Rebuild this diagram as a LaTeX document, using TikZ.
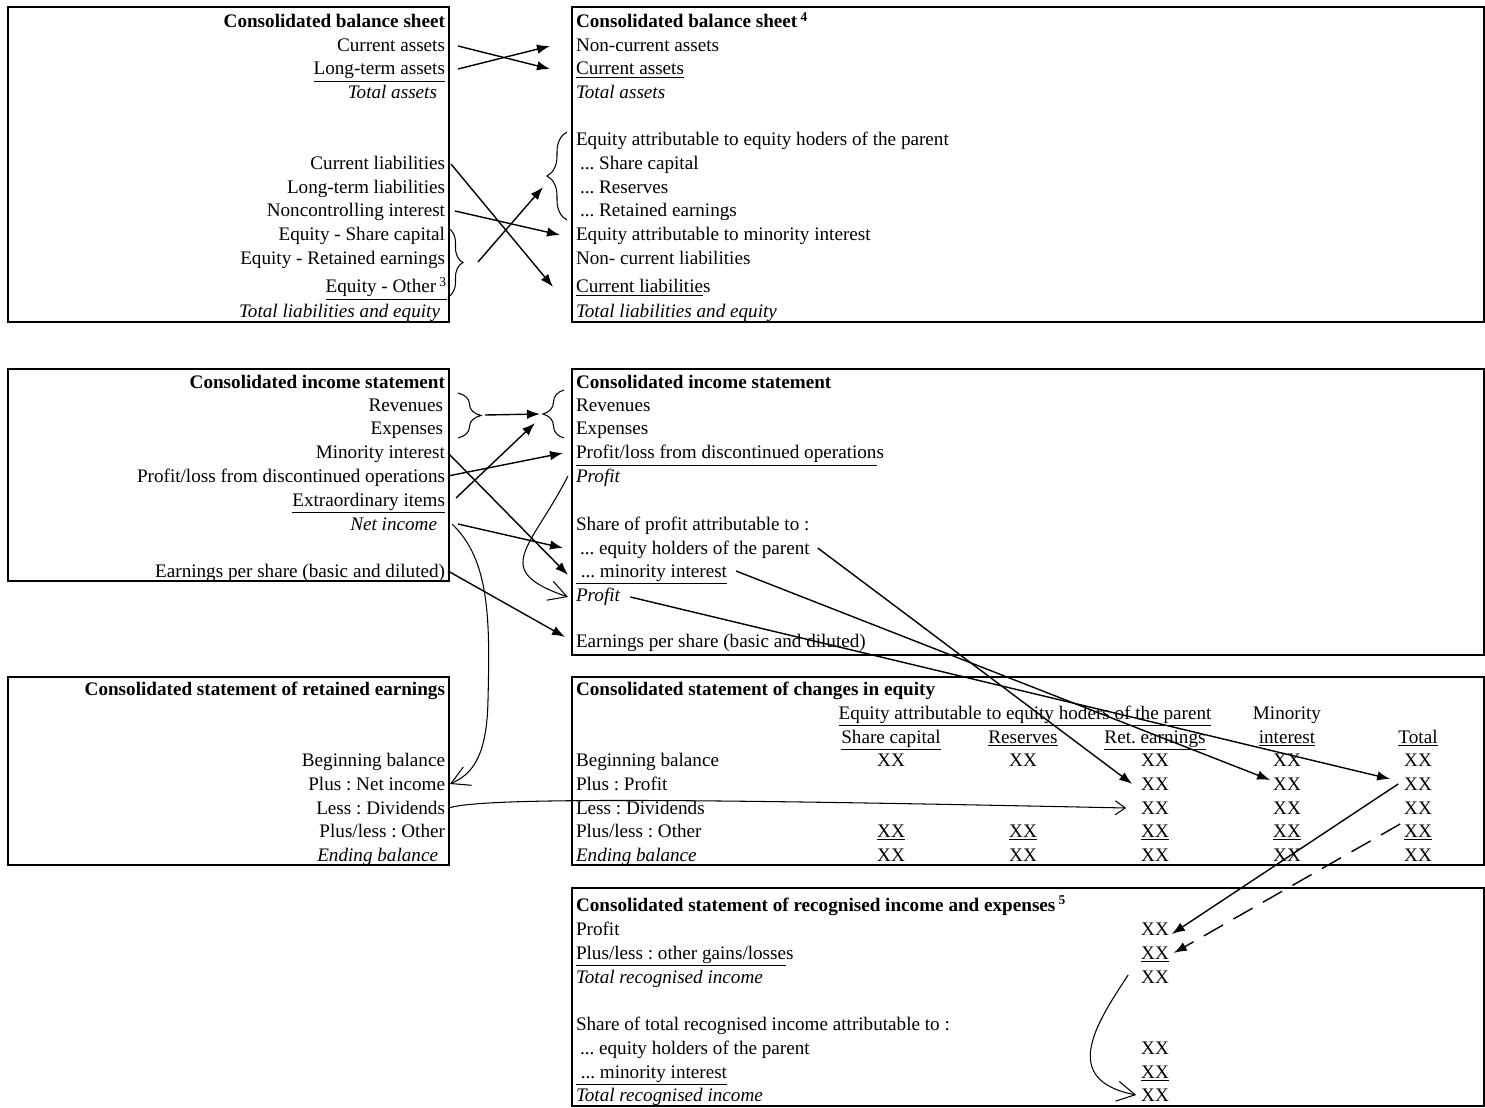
\documentclass[tikz,border=0pt]{standalone}
\usepackage{fontspec}
\setmainfont{Liberation Serif}
\frenchspacing
\usetikzlibrary{arrows.meta,decorations.pathreplacing}

\begin{document}
\begin{tikzpicture}[x=0.02cm,y=-0.02cm,font=\fontsize{10.9pt}{13pt}\selectfont,
	box/.style={draw, line width=1.1pt},
	txt/.style={inner sep=0pt, outer sep=0pt, text height=0.3cm, text depth=0.06cm},
	lt/.style={txt, anchor=base east},
	rt/.style={txt, anchor=base west},
	num/.style={txt, anchor=base},
	arr/.style={-{Latex[length=0.26cm,width=0.19cm]}, line width=0.8pt},
	barb/.style={-{Straight Barb[length=0.36cm,width=0.4cm]}, line width=0.6pt},
	br/.style={decorate, decoration={brace, amplitude=#1}, line width=0.6pt}]

	\useasboundingbox (0,0) rectangle (1485,1108);

	\draw[box] (8,7) rectangle (449,322);
	\draw[box] (572,7) rectangle (1484,322);
	\draw[box] (8,369) rectangle (449,581);
	\draw[box] (572,369) rectangle (1484,655);
	\draw[box] (8,677) rectangle (449,865);
	\draw[box] (572,677) rectangle (1484,865);
	\draw[box] (572,888) rectangle (1484,1106);

	% balance sheet
	\node (bsl0) [lt] at (445,28) {\textbf{Consolidated balance sheet}};
	\node (bsl1) [lt] at (445,52) {Current assets};
	\node (bsl2) [lt] at (445,75) {\underline{Long-term assets}};
	\node (bsl3) [lt] at (437,99) {\textit{Total assets}};
	\node (bsl5) [lt] at (445,170) {Current liabilities};
	\node (bsl6) [lt] at (445,194) {Long-term liabilities};
	\node (bsl7) [lt] at (445,217) {Noncontrolling interest};
	\node (bsl8) [lt] at (445,241) {Equity - Share capital};
	\node (bsl9) [lt] at (445,265) {Equity - Retained earnings};
	\node (bsl10) [lt] at (447,293) {\underline{Equity - Other\,\textsuperscript{3}}};
	\node (bsl11) [lt] at (440,317) {\textit{Total liabilities and equity}};

	\node (bsr0) [rt] at (576,28) {\textbf{Consolidated balance sheet\,\textsuperscript{4}}};
	\node (bsr1) [rt] at (576,52) {Non-current assets};
	\node (bsr2) [rt] at (576,75) {\underline{Current assets}};
	\node (bsr3) [rt] at (576,99) {\textit{Total assets}};
	\node (bsr4) [rt] at (576,146) {Equity attributable to equity hoders of the parent};
	\node (bsr5) [rt] at (580,170) {... Share capital};
	\node (bsr6) [rt] at (580,194) {... Reserves};
	\node (bsr7) [rt] at (580,217) {... Retained earnings};
	\node (bsr8) [rt] at (576,241) {Equity attributable to minority interest};
	\node (bsr9) [rt] at (576,265) {Non- current liabilities};
	\node (bsr10) [rt] at (576,293) {\underline{Current liabilitie}s};
	\node (bsr11) [rt] at (576,317) {\textit{Total liabilities and equity}};

	\draw[br=0.3cm] (448,228) -- (448,297);
	\draw[br=0.4cm] (567,220) -- (567,132);
	\coordinate (bslb) at (463,262);
	\coordinate (bsrb) at (547,176);

	% income statement
	\node (isl0) [lt] at (445,388) {\textbf{Consolidated income statement}};
	\node (isl1) [lt] at (443,411) {Revenues};
	\node (isl2) [lt] at (443,435) {Expenses};
	\node (isl3) [lt] at (445,459) {Minority interest};
	\node (isl4) [lt] at (445,482) {Profit/loss from discontinued operations};
	\node (isl5) [lt] at (445,506) {\underline{Extraordinary items}};
	\node (isl6) [lt] at (437,530) {\textit{Net income}};
	\node (isl8) [lt] at (445,577) {Earnings per share (basic and diluted)};

	\node (isr0) [rt] at (576,388) {\textbf{Consolidated income statement}};
	\node (isr1) [rt] at (576,411) {Revenues};
	\node (isr2) [rt] at (576,435) {Expenses};
	\node (isr3) [rt] at (576,459) {\underline{Profit/loss from discontinued operation}s};
	\node (isr4) [rt] at (576,482) {\textit{Profit}};
	\node (isr6) [rt] at (576,530) {Share of profit attributable to :};
	\node (isr7) [rt] at (580,554) {... equity holders of the parent};
	\node (isr8) [rt] at (576,577) {\underline{\ ... minority interest}};
	\node (isr9) [rt] at (576,601) {\textit{Profit}};
	\node (isr11) [rt] at (576,647) {Earnings per share (basic and diluted)};

	\draw[br=0.46cm] (458,393) -- (458,438);
	\draw[br=0.42cm] (564,438) -- (564,390);
	\coordinate (islb) at (481,415);
	\coordinate (isrb) at (543,414);

	% retained earnings
	\node (rel0) [lt] at (445,695) {\textbf{Consolidated statement of retained earnings}};
	\node (rel3) [lt] at (445,766) {Beginning balance};
	\node (rel4) [lt] at (445,790) {Plus : Net income};
	\node (rel5) [lt] at (445,814) {Less : Dividends};
	\node (rel6) [lt] at (445,837) {Plus/less : Other};
	\node (rel7) [lt] at (438,861) {\textit{Ending balance}};

	% changes in equity
	\node (ce0) [rt] at (576,695) {\textbf{Consolidated statement of changes in equity}};
	\node (ceh1) [num] at (1025,719) {\underline{Equity attributable to equity hoders of the parent}};
	\node (ceh2) [num] at (1287,719) {Minority};
	\node (ceh3) [num] at (891,743) {\underline{Share capital}};
	\node (ceh4) [num] at (1023,743) {\underline{Reserves}};
	\node (ceh5) [num] at (1155,743) {\underline{Ret. earnings}};
	\node (ceh6) [num] at (1287,743) {\underline{interest}};
	\node (ceh7) [num] at (1418,743) {\underline{Total}};
	\node (ce3) [rt] at (576,766) {Beginning balance};
	\node (ce4) [rt] at (576,790) {Plus : Profit};
	\node (ce5) [rt] at (576,814) {Less : Dividends};
	\node (ce6) [rt] at (576,837) {Plus/less : Other};
	\node (ce7) [rt] at (576,861) {\textit{Ending balance}};

	\node (xa1) [num] at (891,766) {XX};
	\node (xa2) [num] at (1023,766) {XX};
	\node (xa3) [num] at (1155,766) {XX};
	\node (xa4) [num] at (1287,766) {XX};
	\node (xa5) [num] at (1418,766) {XX};
	\node (xb3) [num] at (1155,790) {XX};
	\node (xb4) [num] at (1287,790) {XX};
	\node (xb5) [num] at (1418,790) {XX};
	\node (xc3) [num] at (1155,814) {XX};
	\node (xc4) [num] at (1287,814) {XX};
	\node (xc5) [num] at (1418,814) {XX};
	\node (xd1) [num] at (891,837) {\underline{XX}};
	\node (xd2) [num] at (1023,837) {\underline{XX}};
	\node (xd3) [num] at (1155,837) {\underline{XX}};
	\node (xd4) [num] at (1287,837) {\underline{XX}};
	\node (xd5) [num] at (1418,837) {\underline{XX}};
	\node (xe1) [num] at (891,861) {XX};
	\node (xe2) [num] at (1023,861) {XX};
	\node (xe3) [num] at (1155,861) {XX};
	\node (xe4) [num] at (1287,861) {XX};
	\node (xe5) [num] at (1418,861) {XX};

	% recognised income and expenses
	\node (ri0) [rt] at (576,911) {\textbf{Consolidated statement of recognised income and expenses\,\textsuperscript{5}}};
	\node (ri1) [rt] at (576,935) {Profit};
	\node (ri2) [rt] at (576,959) {\underline{Plus/less : other gains/losse}s};
	\node (ri3) [rt] at (576,983) {\textit{Total recognised income}};
	\node (ri5) [rt] at (576,1030) {Share of total recognised income attributable to :};
	\node (ri6) [rt] at (580,1054) {... equity holders of the parent};
	\node (ri7) [rt] at (576,1078) {\underline{\ ... minority interest}};
	\node (ri8) [rt] at (576,1101) {\textit{Total recognised income}};
	\node (rix1) [num] at (1155,935) {XX};
	\node (rix2) [num] at (1155,959) {\underline{XX}};
	\node (rix3) [num] at (1155,983) {XX};
	\node (rix6) [num] at (1155,1054) {XX};
	\node (rix7) [num] at (1155,1078) {\underline{XX}};
	\node (rix8) [num] at (1155,1101) {XX};

	\path[arr]
	([xshift=0.26cm]bsl1.east) edge ([xshift=-0.52cm]bsr2.west)
	([xshift=0.26cm]bsl2.east) edge ([xshift=-0.52cm]bsr1.west)
	([xshift=0.12cm]bsl5.east) edge ([xshift=-0.46cm]bsr10.west)
	([xshift=0.2cm]bsl7.east) edge ([xshift=-0.32cm]bsr8.west)
	([xshift=0.3cm]bslb) edge ([xshift=-0.08cm,yshift=-0.22cm]bsrb)
	([xshift=0.08cm]islb) edge ([xshift=-0.06cm]isrb)
	([xshift=0.22cm,yshift=0.04cm]isl5.east) edge ([xshift=-0.16cm,yshift=-0.18cm]isrb)
	([xshift=0.06cm]isl4.east) edge ([xshift=-0.26cm]isr3.west)
	([xshift=0.06cm]isl3.east) edge ([xshift=-0.16cm,yshift=-0.08cm]isr8.west)
	([xshift=0.42cm]isl6.east) edge ([xshift=-0.34cm]isr7.west)
	([xshift=0.06cm]isl8.east) edge ([xshift=-0.22cm,yshift=0.08cm]isr11.west)
	([xshift=0.16cm]isr7.east) edge ([xshift=-0.18cm]xb3.west)
	([xshift=0.18cm]isr8.east) edge ([xshift=-0.06cm,yshift=0.08cm]xb4.west)
	([xshift=0.2cm,yshift=-0.04cm]isr9.east) edge ([xshift=-0.28cm,yshift=0.1cm]xb5.west)
	([xshift=-0.12cm]xb5.west) edge ([xshift=0.06cm,yshift=-0.1cm]rix1.east);

	\path[arr, dash pattern=on 0.44cm off 0.24cm]
	([xshift=-0.08cm,yshift=0.14cm]xd5.west) edge ([xshift=0.1cm]rix2.east);

	\draw[barb] ([xshift=0.3cm]isl6.east) .. controls (490,560) and (490,620) .. (488,700)
		.. controls (487,760) and (470,775) .. ([xshift=0.1cm]rel4.east);
	\draw[barb] ([xshift=-0.16cm]isr4.west) .. controls (530,550) and (490,570) .. ([xshift=-0.16cm,yshift=-0.04cm]isr9.west);
	\draw[barb, -{Straight Barb[length=0.2cm,width=0.28cm]}] ([xshift=0.08cm]rel5.east) .. controls (480,797) and (700,799) .. ([xshift=-0.3cm]xc3.west);
	\draw[barb] ([xshift=-0.26cm,yshift=0.04cm]rix3.west) .. controls (1095,1025) and (1060,1080) .. ([xshift=-0.1cm]rix8.west);

\end{tikzpicture}
\end{document}
